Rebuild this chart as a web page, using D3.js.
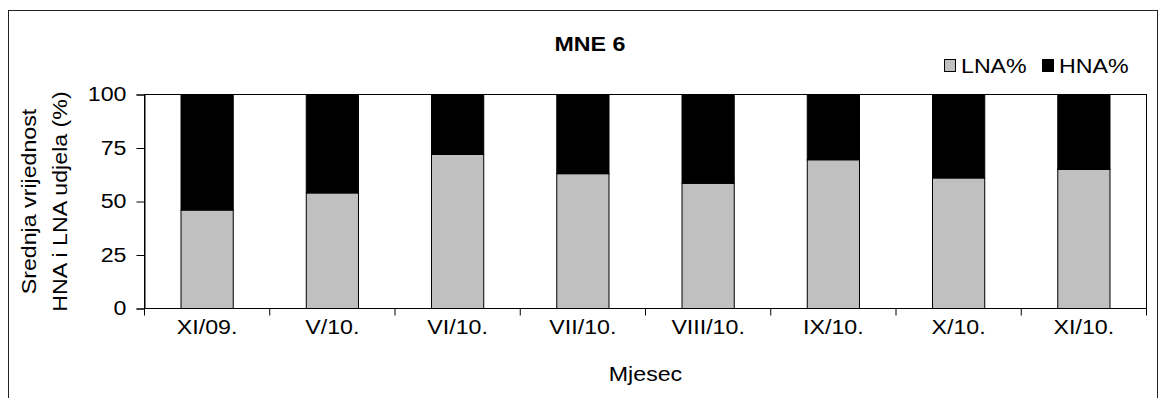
<!DOCTYPE html>
<html>
<head>
<meta charset="utf-8">
<script src="https://cdn.jsdelivr.net/npm/d3@7"></script>
<style>
  body { margin: 0; background: #fff; }
  text { font-family: "Liberation Sans", Arial, sans-serif; }
</style>
</head>
<body>
<div id="chart"></div>
<script>
// data
var months = ['XI/09.', 'V/10.', 'VI/10.', 'VII/10.', 'VIII/10.', 'IX/10.', 'X/10.', 'XI/10.'];
var lnaValues = [46, 54, 72, 63, 58.5, 69.5, 61, 65];
var hnaValues = [54, 46, 28, 37, 41.5, 30.5, 39, 35];
var yTicks = [0, 25, 50, 75, 100];
var seriesNames = ['LNA%', 'HNA%'];
var seriesColors = ['#c0c0c0', '#000000'];

var width = 1164;
var height = 398;
var margin = { top: 94.5, right: 17.5, bottom: 89.5, left: 144.5 };
var fontSize = '20px';
var stretchX = 1.16; // the original font is a bit wider than Liberation Sans

// widen text horizontally, keeping its anchor point in place
function stretch(sel) {
  sel.each(function () {
    var t = d3.select(this);
    var x = +t.attr('x') || 0;
    t.attr('x', x / stretchX)
      .attr('transform', 'scale(' + stretchX + ',1)');
  });
}

var svg = d3.select('#chart').append('svg')
  .attr('width', width)
  .attr('height', height);

// outer frame
svg.append('rect')
  .attr('x', 8.5)
  .attr('y', 10.5)
  .attr('width', 1149)
  .attr('height', 400)
  .attr('fill', 'none')
  .attr('stroke', '#222');

var plotW = width - margin.left - margin.right;
var plotH = height - margin.top - margin.bottom;

var x = d3.scaleBand()
  .domain(months)
  .range([0, plotW])
  .paddingInner(0.583)
  .paddingOuter(0.2915);

var y = d3.scaleLinear()
  .domain([0, 100])
  .range([plotH, 0]);

var g = svg.append('g')
  .attr('transform', 'translate(' + margin.left + ',' + margin.top + ')');

// plot area frame
g.append('rect')
  .attr('width', plotW)
  .attr('height', plotH)
  .attr('fill', '#fff')
  .attr('stroke', '#000');

// stacked bars
var rows = months.map(function (m, i) {
  return { month: m, LNA: lnaValues[i], HNA: hnaValues[i] };
});
var stack = d3.stack().keys(['LNA', 'HNA']);
var layers = stack(rows);

g.selectAll('g.layer')
  .data(layers)
  .enter()
  .append('g')
  .attr('class', 'layer')
  .attr('fill', function (d, i) { return seriesColors[i]; })
  .selectAll('rect')
  .data(function (d) { return d; })
  .enter()
  .append('rect')
  .attr('x', function (d) { return x(d.data.month); })
  .attr('y', function (d) { return y(d[1]); })
  .attr('width', x.bandwidth())
  .attr('height', function (d) { return y(d[0]) - y(d[1]); })
  .attr('stroke', '#000')
  .attr('stroke-width', 1);

// y axis
var yAxis = g.append('g')
  .call(d3.axisLeft(y).tickValues(yTicks).tickSize(8).tickPadding(10));
yAxis.select('.domain').attr('stroke', '#000');
yAxis.selectAll('text').style('font-size', fontSize).attr('fill', '#000').call(stretch);

// x axis: ticks on the category boundaries
var step = plotW / months.length;
var xAxis = g.append('g')
  .attr('transform', 'translate(0,' + plotH + ')');
xAxis.append('line')
  .attr('x1', 0).attr('x2', plotW)
  .attr('stroke', '#000');
xAxis.selectAll('line.tick')
  .data(d3.range(months.length + 1))
  .enter()
  .append('line')
  .attr('class', 'tick')
  .attr('x1', function (d) { return d * step; })
  .attr('x2', function (d) { return d * step; })
  .attr('y1', 0)
  .attr('y2', 7)
  .attr('stroke', '#000');
xAxis.selectAll('text')
  .data(months)
  .enter()
  .append('text')
  .attr('x', function (d) { return x(d) + x.bandwidth() / 2; })
  .attr('y', 19)
  .attr('dy', '0.35em')
  .attr('text-anchor', 'middle')
  .style('font-size', fontSize)
  .text(function (d) { return d; })
  .call(stretch);

// axis titles
svg.append('text')
  .attr('x', margin.left + plotW / 2)
  .attr('y', 374)
  .attr('dy', '0.35em')
  .attr('text-anchor', 'middle')
  .style('font-size', fontSize)
  .text('Mjesec')
  .call(stretch);

var yTitle = svg.append('text')
  .attr('transform', 'translate(0,' + (margin.top + plotH / 2) + ') rotate(-90) scale(' + stretchX + ',1)')
  .attr('text-anchor', 'middle')
  .style('font-size', fontSize);
yTitle.append('tspan').attr('x', 0).attr('y', 36).text('Srednja vrijednost');
yTitle.append('tspan').attr('x', 0).attr('y', 67).text('HNA i LNA udjela (%)');

// title
svg.append('text')
  .attr('x', 590)
  .attr('y', 44)
  .attr('dy', '0.35em')
  .attr('text-anchor', 'middle')
  .style('font-size', fontSize)
  .style('font-weight', 'bold')
  .text('MNE 6')
  .call(stretch);

// legend
var legend = svg.append('g')
  .attr('transform', 'translate(944,59)');
var legendX = [0, 98];
seriesNames.forEach(function (name, i) {
  legend.append('rect')
    .attr('x', legendX[i] + 0.5)
    .attr('y', 0.5)
    .attr('width', 11)
    .attr('height', 12)
    .attr('fill', seriesColors[i])
    .attr('stroke', '#000');
  legend.append('text')
    .attr('x', legendX[i] + 17)
    .attr('y', 6.5)
    .attr('dy', '0.35em')
    .style('font-size', fontSize)
    .text(name)
    .call(stretch);
});
</script>
</body>
</html>
